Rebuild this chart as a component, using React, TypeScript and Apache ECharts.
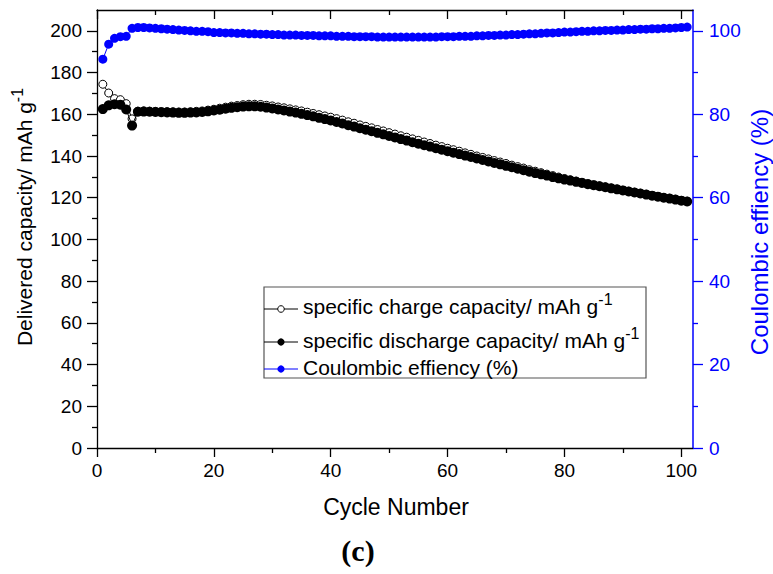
import React, { useEffect, useRef } from "react";
import * as echarts from "echarts";

const cycles = [
  1, 2, 3, 4, 5, 6, 7, 8, 9, 10,
  11, 12, 13, 14, 15, 16, 17, 18, 19, 20,
  21, 22, 23, 24, 25, 26, 27, 28, 29, 30,
  31, 32, 33, 34, 35, 36, 37, 38, 39, 40,
  41, 42, 43, 44, 45, 46, 47, 48, 49, 50,
  51, 52, 53, 54, 55, 56, 57, 58, 59, 60,
  61, 62, 63, 64, 65, 66, 67, 68, 69, 70,
  71, 72, 73, 74, 75, 76, 77, 78, 79, 80,
  81, 82, 83, 84, 85, 86, 87, 88, 89, 90,
  91, 92, 93, 94, 95, 96, 97, 98, 99, 100,
  101,
];

const chargeCapacity = [
  174.4, 170.2, 167.5, 167.0, 165.1, 157.8, 161.5, 161.6, 161.5, 161.4,
  161.3, 161.3, 161.2, 161.1, 161.1, 161.2, 161.4, 161.6, 162.0, 162.4,
  162.9, 163.4, 163.9, 164.2, 164.6, 164.8, 164.8, 164.7, 164.3, 164.0,
  163.5, 163.1, 162.6, 162.1, 161.6, 161.0, 160.4, 159.8, 159.2, 158.6,
  157.9, 157.2, 156.4, 155.7, 154.9, 154.2, 153.5, 152.7, 152.0, 151.2,
  150.5, 149.7, 149.0, 148.2, 147.5, 146.7, 146.0, 145.2, 144.5, 143.7,
  143.0, 142.3, 141.5, 140.8, 140.0, 139.3, 138.6, 137.8, 137.1, 136.4,
  135.6, 134.9, 134.2, 133.4, 132.7, 132.0, 131.3, 130.6, 129.9, 129.2,
  128.6, 128.0, 127.4, 126.8, 126.2, 125.7, 125.2, 124.6, 124.1, 123.6,
  123.1, 122.6, 122.1, 121.6, 121.1, 120.6, 120.1, 119.7, 119.2, 118.7,
  118.3,
];

const dischargeCapacity = [
  162.5, 164.3, 164.8, 164.6, 162.3, 154.6, 161.2, 161.3, 161.2, 161.1,
  161.0, 160.9, 160.8, 160.7, 160.7, 160.8, 160.9, 161.1, 161.4, 161.8,
  162.2, 162.7, 163.1, 163.4, 163.7, 163.8, 163.8, 163.6, 163.2, 162.8,
  162.3, 161.8, 161.3, 160.8, 160.2, 159.6, 159.0, 158.3, 157.7, 157.0,
  156.3, 155.6, 154.8, 154.1, 153.3, 152.6, 151.9, 151.1, 150.4, 149.6,
  148.9, 148.1, 147.4, 146.6, 145.9, 145.2, 144.5, 143.7, 143.0, 142.3,
  141.6, 140.9, 140.2, 139.5, 138.8, 138.1, 137.4, 136.7, 136.0, 135.3,
  134.6, 133.9, 133.2, 132.5, 131.8, 131.2, 130.6, 129.9, 129.3, 128.7,
  128.2, 127.6, 127.1, 126.5, 126.0, 125.5, 125.0, 124.5, 124.0, 123.5,
  123.0, 122.5, 122.0, 121.5, 121.0, 120.5, 120.0, 119.6, 119.1, 118.6,
  118.2,
];

const coulombicEfficiency = [
  93.2, 96.8, 98.2, 98.6, 98.7, 100.6, 100.8, 100.8, 100.7, 100.6,
  100.5, 100.4, 100.3, 100.2, 100.1, 100.0, 99.9, 99.9, 99.8, 99.6,
  99.6, 99.5, 99.5, 99.4, 99.4, 99.3, 99.3, 99.2, 99.2, 99.1,
  99.1, 99.0, 99.0, 99.0, 98.9, 98.9, 98.9, 98.8, 98.8, 98.8,
  98.7, 98.7, 98.7, 98.6, 98.6, 98.6, 98.6, 98.5, 98.5, 98.5,
  98.5, 98.5, 98.5, 98.5, 98.5, 98.5, 98.5, 98.5, 98.6, 98.6,
  98.6, 98.7, 98.7, 98.7, 98.8, 98.8, 98.9, 98.9, 99.0, 99.0,
  99.1, 99.1, 99.2, 99.3, 99.3, 99.4, 99.5, 99.5, 99.6, 99.7,
  99.7, 99.8, 99.9, 99.9, 100.0, 100.0, 100.1, 100.1, 100.2, 100.2,
  100.3, 100.3, 100.4, 100.4, 100.5, 100.5, 100.6, 100.6, 100.7, 100.8,
  100.9,
];

const xTickValues = [0, 20, 40, 60, 80, 100];
const leftTickValues = [0, 20, 40, 60, 80, 100, 120, 140, 160, 180, 200];
const rightTickValues = [0, 20, 40, 60, 80, 100];

const xTitle = "Cycle Number";
const leftTitle = "Delivered capacity/ mAh g";
const rightTitle = "Coulombic effiency (%)";
const legendNames = [
  "specific charge capacity/ mAh g",
  "specific discharge capacity/ mAh g",
  "Coulombic effiency (%)",
];
const panelLabel = "(c)";

const FONT = "'Liberation Sans', Arial, Helvetica, sans-serif";
const BLUE = "#0000ff";

const supRich = {
  a: { fontSize: 21, fontFamily: FONT, lineHeight: 30, fill: "#000" },
  s: { fontSize: 16, fontFamily: FONT, lineHeight: 16, verticalAlign: "top", fill: "#000" },
};

export default function App() {
  const ref = useRef<HTMLDivElement>(null);

  useEffect(() => {
    if (!ref.current) return;
    const chart = echarts.init(ref.current, null, { renderer: "svg" });

    const pairs = (vals: number[]) => cycles.map((c, i) => [c, vals[i]]);

    const blackAxis = (position: "bottom" | "top") => ({
      type: "value",
      position,
      min: 0,
      max: 102,
      interval: 20,
      axisLine: { show: true, onZero: false, lineStyle: { color: "#000", width: 1.3 } },
      axisTick: {
        show: true,
        inside: position === "top",
        length: 9,
        customValues: xTickValues,
        lineStyle: { color: "#000", width: 1.3 },
      },
      minorTick: { show: true, splitNumber: 2, length: 5, lineStyle: { color: "#000", width: 1.3 } },
      axisLabel: {
        show: position === "bottom",
        customValues: xTickValues,
        fontSize: 19,
        fontFamily: FONT,
        color: "#000",
        margin: 13,
      },
      splitLine: { show: false },
      minorSplitLine: { show: false },
    });

    const option: any = {
      animation: false,
      backgroundColor: "#fff",
      grid: { left: 97, right: 80, top: 10, bottom: 126, containLabel: false },
      xAxis: [blackAxis("bottom"), blackAxis("top")],
      yAxis: [
        {
          type: "value",
          position: "left",
          min: 0,
          max: 210,
          interval: 20,
          axisLine: { show: true, onZero: false, lineStyle: { color: "#000", width: 1.3 } },
          axisTick: { show: true, length: 10, customValues: leftTickValues, lineStyle: { color: "#000", width: 1.3 } },
          minorTick: { show: true, splitNumber: 2, length: 5, lineStyle: { color: "#000", width: 1.3 } },
          axisLabel: {
            customValues: leftTickValues,
            fontSize: 19,
            fontFamily: FONT,
            color: "#000",
            margin: 15,
          },
          splitLine: { show: false },
        },
        {
          type: "value",
          position: "right",
          min: 0,
          max: 105,
          interval: 20,
          axisLine: { show: true, onZero: false, lineStyle: { color: BLUE, width: 1.5 } },
          axisTick: { show: true, length: 10, customValues: rightTickValues, lineStyle: { color: BLUE, width: 1.3 } },
          minorTick: { show: true, splitNumber: 2, length: 5, lineStyle: { color: BLUE, width: 1.3 } },
          axisLabel: {
            customValues: rightTickValues,
            fontSize: 19,
            fontFamily: FONT,
            color: BLUE,
            margin: 16,
          },
          splitLine: { show: false },
        },
      ],
      series: [
        {
          name: legendNames[0],
          type: "line",
          xAxisIndex: 0,
          yAxisIndex: 0,
          data: pairs(chargeCapacity),
          symbol: "circle",
          symbolSize: 8,
          showSymbol: true,
          showAllSymbol: true,
          itemStyle: { color: "#fff", borderColor: "#000", borderWidth: 1 },
          lineStyle: { color: "#000", width: 1 },
          z: 2,
        },
        {
          name: legendNames[1],
          type: "line",
          xAxisIndex: 0,
          yAxisIndex: 0,
          data: pairs(dischargeCapacity),
          symbol: "circle",
          symbolSize: 10,
          showSymbol: true,
          showAllSymbol: true,
          itemStyle: { color: "#000" },
          lineStyle: { color: "#000", width: 1 },
          z: 3,
        },
        {
          name: legendNames[2],
          type: "line",
          xAxisIndex: 0,
          yAxisIndex: 1,
          data: pairs(coulombicEfficiency),
          symbol: "circle",
          symbolSize: 9,
          showSymbol: true,
          showAllSymbol: true,
          itemStyle: { color: BLUE },
          lineStyle: { color: BLUE, width: 1 },
          z: 4,
        },
      ],
      graphic: [
        {
          type: "text",
          x: 396,
          y: 507,
          style: { text: xTitle, font: `23px ${FONT}`, fill: "#000", align: "center", verticalAlign: "middle" },
        },
        {
          type: "text",
          x: 24,
          y: 217,
          rotation: Math.PI / 2,
          style: {
            text: `{a|${leftTitle}}{s|-1}`,
            align: "center",
            verticalAlign: "middle",
            fill: "#000",
            rich: supRich,
          },
        },
        {
          type: "text",
          x: 759,
          y: 232,
          rotation: Math.PI / 2,
          style: { text: rightTitle, font: `24px ${FONT}`, fill: BLUE, align: "center", verticalAlign: "middle" },
        },
        {
          type: "text",
          x: 358,
          y: 550,
          style: {
            text: panelLabel,
            font: `bold 30px 'Liberation Serif', 'Times New Roman', serif`,
            fill: "#000",
            align: "center",
            verticalAlign: "middle",
          },
        },
        {
          type: "rect",
          shape: { x: 264, y: 287, width: 382, height: 91 },
          style: { fill: "#fff", stroke: "#555", lineWidth: 1.2 },
          z: 10,
        },
        { type: "line", shape: { x1: 264, y1: 309, x2: 298, y2: 309 }, style: { stroke: "#000", lineWidth: 1 }, z: 11 },
        { type: "circle", shape: { cx: 281, cy: 309, r: 3.3 }, style: { fill: "#fff", stroke: "#000", lineWidth: 1 }, z: 12 },
        { type: "line", shape: { x1: 264, y1: 342, x2: 298, y2: 342 }, style: { stroke: "#000", lineWidth: 1 }, z: 11 },
        { type: "circle", shape: { cx: 281, cy: 342, r: 3.6 }, style: { fill: "#000" }, z: 12 },
        { type: "line", shape: { x1: 264, y1: 369, x2: 298, y2: 369 }, style: { stroke: BLUE, lineWidth: 1 }, z: 11 },
        { type: "circle", shape: { cx: 281, cy: 369, r: 3.6 }, style: { fill: BLUE }, z: 12 },
        {
          type: "text",
          x: 303,
          y: 306.5,
          z: 12,
          style: {
            text: `{a|${legendNames[0]}}{s|-1}`,
            align: "left",
            verticalAlign: "middle",
            fill: "#000",
            rich: supRich,
          },
        },
        {
          type: "text",
          x: 303,
          y: 340,
          z: 12,
          style: {
            text: `{a|${legendNames[1]}}{s|-1}`,
            align: "left",
            verticalAlign: "middle",
            fill: "#000",
            rich: supRich,
          },
        },
        {
          type: "text",
          x: 303,
          y: 367.5,
          z: 12,
          style: {
            text: legendNames[2],
            font: `21px ${FONT}`,
            fill: "#000",
            align: "left",
            verticalAlign: "middle",
          },
        },
      ],
    };

    chart.setOption(option);
    return () => chart.dispose();
  }, []);

  return (
    <div
      ref={ref}
      style={{ position: "absolute", left: 0, top: 0, width: 773, height: 574, background: "#fff" }}
    />
  );
}
